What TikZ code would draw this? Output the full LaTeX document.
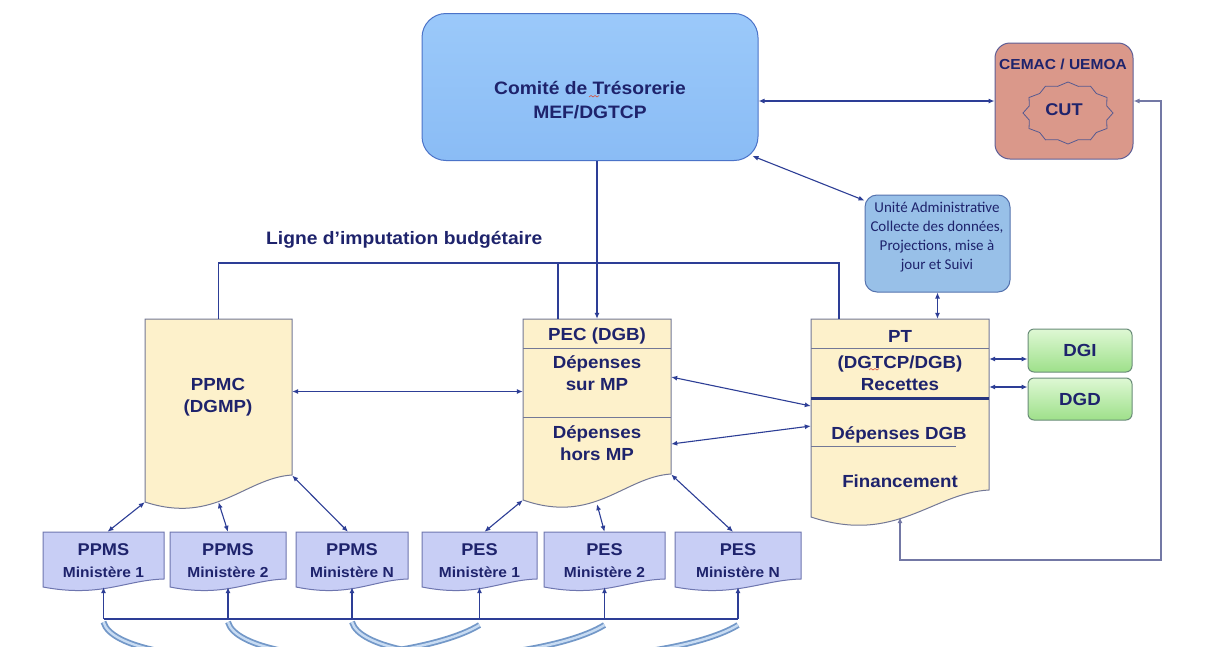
\documentclass[tikz,border=0pt]{standalone}
\usepackage{fontspec}
\setmainfont[FakeStretch=1.07]{Liberation Sans}
\newfontfamily\calib{Carlito}
\usetikzlibrary{arrows.meta,calc,fit}

\definecolor{ink}{RGB}{30,35,108}
\definecolor{linkc}{RGB}{45,62,150}
\definecolor{fbc}{RGB}{115,120,165}
\definecolor{comitetop}{RGB}{155,201,250}
\definecolor{comitebot}{RGB}{138,188,245}
\definecolor{comiteedge}{RGB}{75,115,200}
\definecolor{cemacfill}{RGB}{218,152,138}
\definecolor{cemacedge}{RGB}{95,95,150}
\definecolor{unitefill}{RGB}{152,192,232}
\definecolor{uniteedge}{RGB}{85,115,175}
\definecolor{docfill}{RGB}{253,241,203}
\definecolor{docedge}{RGB}{115,120,150}
\definecolor{lavfill}{RGB}{200,206,245}
\definecolor{lavedge}{RGB}{110,118,175}
\definecolor{greentop}{RGB}{222,248,212}
\definecolor{greenbot}{RGB}{158,224,138}
\definecolor{greenedge}{RGB}{105,140,120}
\definecolor{swooshc}{RGB}{115,152,200}
\definecolor{swooshl}{RGB}{200,220,243}
\definecolor{squig}{RGB}{215,80,60}

% small "document" box: name, left x, right x, title, subtitle
\newcommand\smalldoc[5]{%
  \pgfmathsetmacro\ca{#3-0.32*(#3-#2)}%
  \pgfmathsetmacro\cb{#2+0.48*(#3-#2)}%
  \pgfmathsetmacro\cm{(#2+#3)/2}%
  \draw[smallbox] (#2,532) -- (#3,532) -- (#3,579) .. controls (\ca,580) and (\cb,598) .. (#2,587) -- cycle;
  \node[fit={(#2,532) (#3,587)}, inner sep=0pt] (#1) {};
  \node[txt, font=\bfseries\fontsize{17}{19}\selectfont] (#1-t) at (\cm,550) {#4};
  \node[txt, font=\bfseries\fontsize{14.5}{16}\selectfont] (#1-s) at (\cm,572) {#5};
}

\begin{document}
\begin{tikzpicture}[x=1pt,y=-1pt,
  txt/.style={text=ink, font=\bfseries\fontsize{17.5}{21.5}\selectfont, align=center, inner sep=0pt},
  doc/.style={draw=docedge, line width=1pt, fill=docfill},
  smallbox/.style={draw=lavedge, line width=1pt, fill=lavfill},
  rowline/.style={draw=docedge, line width=0.9pt},
  link/.style={draw=linkc, line width=1.1pt},
  arr/.style={link, -{Latex[length=6pt,width=5pt]}},
  dbl/.style={link, {Latex[length=6pt,width=5pt]}-{Latex[length=6pt,width=5pt]}},
  swoosh/.style={draw=swooshc, double=swooshl, double distance=2.4pt, line width=1.8pt, line cap=butt},
  spell/.style={draw=squig, line width=0.6pt},
]
\useasboundingbox (0,0) rectangle (1208,646);
\clip (0,0) rectangle (1208,646);
\fill[white] (0,0) rectangle (1208,646);

% ---- Comité de Trésorerie
\node[draw=comiteedge, line width=1pt, rounded corners=24pt, top color=comitetop, bottom color=comitebot,
      minimum width=336pt, minimum height=147pt] (comite) at (590,87) {};
\node[txt, font=\bfseries\fontsize{18}{24}\selectfont] (comite-t) at (590,100) {Comité de Trésorerie\\MEF/DGTCP};
\draw[spell] (589,97) -- (591,95.5) -- (593,97) -- (595,95.5) -- (597,97) -- (599,95.5);

% ---- CEMAC / UEMOA with the CUT seal
\node[draw=cemacedge, line width=1pt, fill=cemacfill, rounded corners=15pt,
      minimum width=138pt, minimum height=116pt] (cemac) at (1064,101) {};
\node[txt, font=\bfseries\fontsize{14.5}{16}\selectfont] (cemac-t) at (1063,64) {CEMAC / UEMOA};
\draw[draw=ink!75, line width=0.8pt] (1113,113)
  \foreach \i [evaluate=\i as \r using {ifthenelse(mod(\i,2)==0,1,0.89)}] in {1,...,23}
  { -- ({1068+45*\r*cos(\i*15)},{113+31*\r*sin(\i*15)}) } -- cycle;
\node[txt, font=\bfseries\fontsize{17}{19}\selectfont] (cut) at (1064,110) {CUT};

% ---- Unité Administrative
\node[draw=uniteedge, line width=1pt, fill=unitefill, rounded corners=12pt,
      minimum width=145pt, minimum height=97pt] (unite) at (937.5,243.5) {};
\node[text=ink, font=\calib\fontsize{15}{19}\selectfont, align=center, inner sep=0pt] (unite-t) at (937,237)
  {Unité Administrative\\Collecte des données,\\Projections, mise à\\jour et Suivi};

% ---- DGI / DGD
\node[txt, draw=greenedge, line width=1pt, top color=greentop, bottom color=greenbot, rounded corners=6pt,
      minimum width=104pt, minimum height=43pt] (dgi) at (1080,350.5) {DGI};
\node[txt, draw=greenedge, line width=1pt, top color=greentop, bottom color=greenbot, rounded corners=6pt,
      minimum width=104pt, minimum height=42pt] (dgd) at (1080,399) {DGD};

% ---- PPMC
\draw[doc] (145,319) -- (292,319) -- (292,475) .. controls (245,478) and (215,525) .. (145,502) -- cycle;
\node[fit={(145,319) (292,502)}, inner sep=0pt] (ppmc) {};
\node[txt] (ppmc-t) at (218,397) {PPMC\\(DGMP)};

% ---- PEC
\draw[doc] (523,319) -- (671,319) -- (671,474) .. controls (624,477) and (594,525) .. (523,500) -- cycle;
\draw[rowline] (523,348) -- (671,348);
\draw[rowline] (523,417) -- (671,417);
\node[fit={(523,319) (671,500)}, inner sep=0pt] (pec) {};
\node[txt] (pec-t) at (597,336) {PEC (DGB)};
\node[txt] (pec-sur) at (597,373) {Dépenses\\sur MP};
\node[txt] (pec-hors) at (597,443) {Dépenses\\hors MP};

% ---- PT
\draw[doc] (811,319) -- (989,319) -- (989,490) .. controls (932,493) and (896,545) .. (811,517) -- cycle;
\draw[rowline] (811,348) -- (989,348);
\draw[draw=linkc!85!black, line width=3pt] (811,398) -- (989,398);
\draw[rowline] (811,446) -- (956,446);
\node[fit={(811,319) (989,517)}, inner sep=0pt] (pt) {};
\node[txt] (pt-t) at (900,336) {PT};
\node[txt] (pt-rec) at (900,373) {(DGTCP/DGB)\\Recettes};
\draw[spell] (869,370) -- (871,368.5) -- (873,370) -- (875,368.5) -- (877,370) -- (879,368.5);
\node[txt] (pt-dep) at (899,435) {Dépenses DGB};
\node[txt] (pt-fin) at (900,481) {Financement};

% ---- ministry plans
\smalldoc{ppms1}{43}{164}{PPMS}{Ministère 1}
\smalldoc{ppms2}{170}{286}{PPMS}{Ministère 2}
\smalldoc{ppmsn}{296}{408}{PPMS}{Ministère N}
\smalldoc{pes1}{422}{537}{PES}{Ministère 1}
\smalldoc{pes2}{544}{665}{PES}{Ministère 2}
\smalldoc{pesn}{675}{801}{PES}{Ministère N}

% ---- budget line bus
\node[txt, font=\bfseries\fontsize{18}{20}\selectfont, anchor=west] (ligne) at (266,240) {Ligne d'imputation budgétaire};
\coordinate (bus) at (0,263);
\draw[link] (ppmc.north) -- (ppmc.north |- bus) -- ([xshift=-61pt]pt.north |- bus) -- ([xshift=-61pt]pt.north);
\draw[link] ([xshift=-39pt]pec.north) -- ([xshift=-39pt]pec.north |- bus);

% ---- connectors
\draw[dbl] (comite.east |- cemac.west) -- (cemac.west);
\draw[dbl] ([xshift=-6pt,yshift=5pt]comite.south east) -- ([yshift=-6pt]unite.north west);
\draw[arr] (pec.north |- comite.south) -- (pec.north);
\draw[dbl] (unite.south) -- (unite.south |- pt.north);
\draw[dbl] ([yshift=19pt]ppmc.east) -- ([yshift=19pt]ppmc.east -| pec.west);
\draw[dbl] ([yshift=32.5pt]pec.east) -- ([yshift=12pt]pt.west);
\draw[dbl] ([yshift=-34.5pt]pec.east) -- ([yshift=-8pt]pt.west);
\draw[dbl] ([yshift=-8.5pt]dgi.west -| pt.east) -- ([yshift=-8.5pt]dgi.west);
\draw[dbl] ([yshift=12pt]dgd.west -| pt.east) -- ([yshift=12pt]dgd.west);
\coordinate (fb) at (1161,560);
\draw[draw=fbc, line width=1.1pt, {Latex[length=6pt,width=5pt]}-{Latex[length=6pt,width=5pt]}]
  (cemac.east) -| (fb) -| (pt.south);

\draw[dbl] (ppmc.south west) -- ([xshift=4pt]ppms1.north);
\draw[dbl] (ppmc.south) -- (ppms2.north);
\draw[dbl] ([yshift=-65pt]ppmc.east) -- ([xshift=-4pt]ppmsn.north);
\draw[dbl] (pec.south west) -- ([xshift=5pt]pes1.north);
\draw[dbl] ([yshift=-4pt]pec.south) -- (pes2.north);
\draw[dbl] ([yshift=-65pt]pec.east) -- ([xshift=-5pt]pesn.north);

% ---- bottom bus
\coordinate (bb) at (0,619);
\draw[link] (ppms1.south |- bb) -- (pesn.south |- bb);
\foreach \n in {ppms1,ppms2,ppmsn,pes1,pes2,pesn}
  \draw[arr] (\n.south |- bb) -- (\n.south);

% ---- curved transfer arrows under the bus
\foreach \a/\b in {ppms1/pes1, ppms2/pes2, ppmsn/pesn}
  \draw[swoosh] ([yshift=-3pt]\a.south |- bb) .. controls +(14,52) and +(-75,46) .. ([yshift=-6pt]\b.south |- bb);
\end{tikzpicture}
\end{document}
